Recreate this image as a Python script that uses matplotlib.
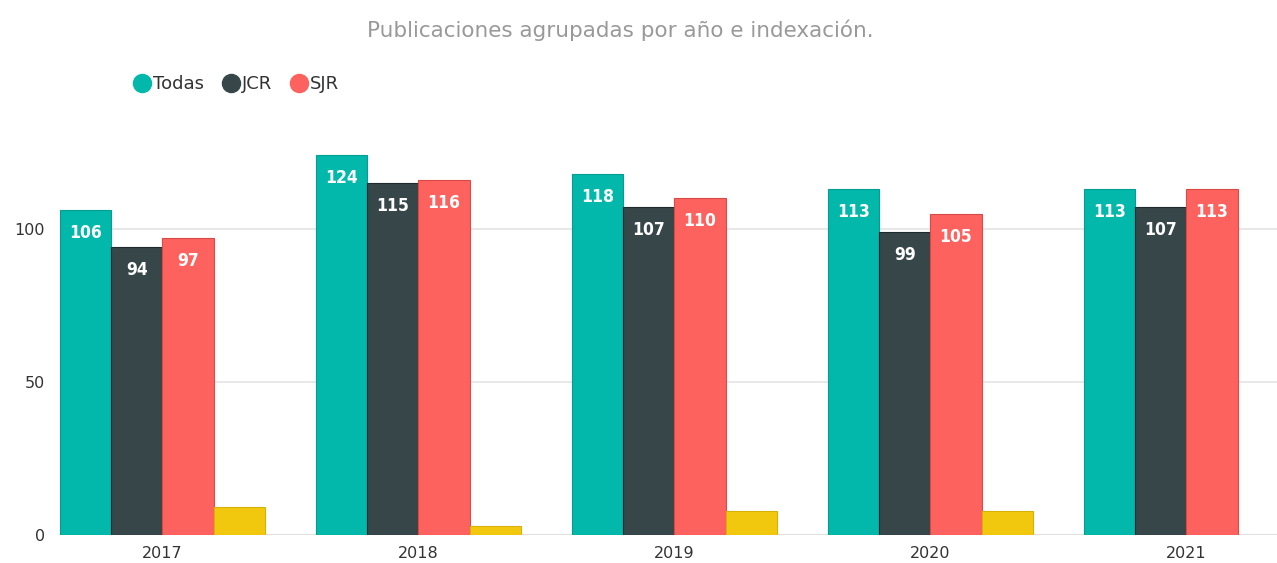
import matplotlib
matplotlib.use("Agg")
import matplotlib.pyplot as plt
import numpy as np
from matplotlib.lines import Line2D

years = ["2017", "2018", "2019", "2020", "2021"]
todas = [106, 124, 118, 113, 113]
jcr = [94, 115, 107, 99, 107]
sjr = [97, 116, 110, 105, 113]
otros = [9, 3, 8, 8, 0]

series_names = ["Todas", "JCR", "SJR"]
colors = ["#01B8AA", "#374649", "#FD625E", "#F2C80F"]
edge_colors = ["#019E92", "#1F2A2C", "#D94A46", "#D8B00A"]
yticks = [0, 50, 100]
title = "Publicaciones agrupadas por año e indexación."

plt.rcParams['font.family'] = ['DejaVu Sans']

fig = plt.figure(figsize=(12.77, 5.63), dpi=100)
ax = fig.add_axes([60/1277, 28/563, 1217/1277, 398/563])

x = np.arange(len(years))
w = 0.2
all_series = [todas, jcr, sjr, otros]
for i, (vals, c, ec) in enumerate(zip(all_series, colors, edge_colors)):
    pos = x - 0.3 + i * w
    vals_plot = [v if v > 0 else np.nan for v in vals]
    ax.bar(pos, vals_plot, width=w, color=c, edgecolor=ec, linewidth=0.8, zorder=3)
    if i < 3:
        for p, v in zip(pos, vals):
            ax.text(p, v - 7.5, str(v), ha='center', va='center', color='white',
                    fontsize=12.5, fontweight='bold', fontstretch='condensed', zorder=4)

ax.set_xlim(-0.4, -0.4 + 1217/256)
ax.set_ylim(0, 130)
ax.set_yticks(yticks)
ax.set_yticklabels([str(t) for t in yticks])
ax.set_xticks(x)
ax.set_xticklabels(years)
ax.tick_params(axis='both', length=0, labelsize=11.5, colors='#333333')
ax.tick_params(axis='y', pad=11)
ax.tick_params(axis='x', pad=8)
ax.yaxis.grid(True, color='#E8E8E8', linewidth=1.5, zorder=0)
ax.set_axisbelow(True)
for s in ax.spines.values():
    s.set_visible(False)
ax.axhline(0, color='#E0E0E0', linewidth=1.5, zorder=1)

fig.text(620/1277, 1 - 30/563, title, ha='center', va='center', fontsize=15.5, color='#999999')

handles = [Line2D([0], [0], marker='o', linestyle='none', markersize=13,
                  markerfacecolor=c, markeredgecolor=c) for c in colors[:3]]
leg = fig.legend(handles, series_names, loc='center left', bbox_to_anchor=(122/1277, 1 - 84/563),
                 ncol=3, frameon=False, fontsize=13, handletextpad=0.0, columnspacing=0.9,
                 borderpad=0, handlelength=1.2)
for t in leg.get_texts():
    t.set_color('#333333')

fig.savefig("out.png", dpi=100)
